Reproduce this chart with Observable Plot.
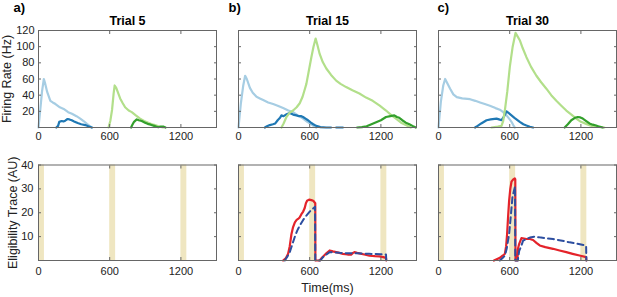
<!DOCTYPE html>
<html><head><meta charset="utf-8">
<script src="https://cdn.jsdelivr.net/npm/d3@7"></script>
<script src="https://cdn.jsdelivr.net/npm/@observablehq/plot@0.6"></script>
<style>
html,body{margin:0;padding:0;background:#fff;}
#chart{position:relative;width:617px;height:297px;overflow:hidden;font-family:"Liberation Sans",Arial,sans-serif;}
#chart svg{position:absolute;max-width:none;background:transparent;}
</style></head><body><div id="chart"></div>
<script>
// ---------- data ----------
const trials = ["Trial 5", "Trial 15", "Trial 30"];
const panelLetters = ["a)", "b)", "c)"];
const xTicks = [0, 600, 1200];
const rateTicks = [20, 40, 60, 80, 100, 120];
const traceTicks = [10, 20, 30, 40];
const windowStart = [0, 600, 1200];
const windowEnd = [50, 650, 1250];

// firing rates [time ms, Hz]
const lightBlue5 = [[0,0],[15,22],[30,45],[45,60],[55,55],[73,44],[100,33],[120,31],[143,29],[180,25],[212,23],[250,19],[282,17],[320,14],[352,11],[380,8],[408,4.5],[430,2],[450,0]];
const darkBlue5 = [[150,0],[165,2],[175,7],[195,8],[210,7.5],[225,8.5],[245,10.5],[260,10],[280,9],[300,7.5],[330,5.5],[360,4],[394,3],[420,1.5],[450,0]];
const lightGreen5 = [[590,0],[605,8],[620,22],[633,42],[642,52],[655,49],[670,43],[688,36],[710,30],[730,25],[760,21],[786,19],[820,15],[856,11],[890,8],[930,5.5],[968,3.5],[1000,2],[1023,1],[1050,0]];
const darkGreen5 = [[780,0],[790,3],[805,7],[828,10],[845,9],[870,8],[898,6],[920,4.5],[945,3.5],[975,2],[995,1],[1010,0.3],[1030,1.2],[1055,1],[1070,0]];

const lightBlue15 = [[0,0],[20,30],[40,52],[56,64],[70,60],[96,49],[120,43],[152,38],[180,36],[208,34],[250,31],[292,29],[330,27],[376,24],[420,21],[460,19],[500,15],[544,11],[580,7],[614,4],[640,1],[655,0]];
const darkBlue15 = [[222,0],[240,1.5],[264,3],[290,4],[310,5],[330,9],[350,12],[362,15],[380,14],[400,16],[432,18],[460,16],[488,15],[510,14],[530,14],[544,13],[565,11],[586,9],[610,6],[630,4],[655,2],[690,0.5],[740,0],[780,0],[800,null],[823,0],[880,0]];
const lightGreen15 = [[362,0],[380,5],[404,13],[430,18],[460,21],[490,25],[516,30],[540,38],[560,48],[572,54],[590,68],[614,87],[632,100],[650,110],[665,102],[684,91],[710,81],[740,73],[780,65],[823,58],[860,54],[907,50],[960,46],[1019,42],[1075,37],[1131,33],[1190,27],[1243,21],[1290,15],[1327,11],[1370,6],[1410,3],[1452,0]];
const darkGreen15 = [[1000,0],[1040,0.5],[1080,1.5],[1120,4],[1160,6.5],[1200,9],[1243,13],[1280,14],[1313,15],[1335,13],[1355,12],[1380,9],[1410,6],[1440,4],[1466,2],[1494,0]];

const lightBlue30 = [[0,0],[20,32],[40,52],[56,60],[70,56],[98,48],[125,41],[154,37.5],[200,36],[266,35],[310,33],[350,31],[390,29],[433,27],[480,24],[517,22],[545,19],[573,15],[600,10],[615,7],[630,3],[643,0]];
const darkBlue30 = [[308,0],[330,2],[360,5],[405,9],[440,10],[489,11],[510,10],[531,9],[550,13],[573,20],[590,18],[615,15],[640,12],[685,7],[715,4],[741,2.5],[770,1],[797,0]];
const lightGreen30 = [[447,0],[500,1],[531,2],[545,8],[559,21],[580,45],[601,75],[625,100],[649,117],[665,113],[685,108],[710,98],[741,87],[780,75],[825,64],[865,56],[909,48],[950,40],[993,33],[1035,27],[1077,21],[1120,16],[1161,11],[1200,7],[1244,4.5],[1290,2],[1328,1],[1398,0]];
const darkGreen30 = [[1063,0],[1090,4],[1119,9],[1150,12],[1174,13],[1195,12.5],[1216,11],[1245,8],[1272,5],[1300,3.5],[1328,2.5],[1355,1],[1384,0]];

// eligibility traces [time ms, AU]
const red15 = [[376,0],[400,1],[418,2.8],[432,6],[446,11],[460,14],[475,16],[490,17],[502,17.4],[515,18],[530,19.4],[545,20.5],[558,22],[568,24],[578,25],[595,25.5],[614,25.3],[630,25],[642,24.3],[647,24],[648,0],[684,0],[700,1],[720,2],[740,3],[768,4.2],[795,3.8],[823,3.5],[850,3.2],[880,2.8],[920,2.5],[949,2.4],[965,3.2],[977,3.5],[1000,3.2],[1019,3],[1060,2.5],[1103,2],[1150,1.8],[1187,1.7],[1220,1.4],[1243,1.1],[1245,0]];
const dashed15 = [[390,0],[410,1.5],[432,3.5],[455,7],[475,10],[495,12.5],[516,14.6],[545,17],[572,18.8],[600,20.5],[634,22],[645,22.5],[647,0],[690,0],[712,1.4],[740,2.5],[768,3.5],[800,3.5],[850,3.2],[900,3],[963,3],[1000,3],[1050,2.9],[1100,2.8],[1150,2.7],[1200,2.6],[1243,2.5],[1245,0]];
const red30 = [[467,0],[490,0.5],[517,1.1],[540,2],[559,2.8],[570,6],[578,11],[586,18],[595,25],[605,30],[615,33],[630,34],[643,34.4],[647,34],[649,0],[665,0],[670,5],[680,7],[699,9.4],[720,9.2],[741,9],[770,9],[797,8.6],[825,7.4],[853,6.3],[900,5.6],[965,4.9],[1020,4.2],[1077,3.5],[1130,2.8],[1188,2.1],[1244,1.4],[1246,0]];
const dashed30 = [[517,0],[540,1],[559,2],[575,5],[595,11],[610,19],[623,26.4],[635,29],[645,31],[647,0],[668,0],[680,4],[697,6],[713,8.3],[740,9],[770,9.6],[811,10],[850,9.7],[900,9.4],[965,9],[1030,8.4],[1105,7.6],[1170,7],[1244,6.2],[1246,0]];

const rateSeries = [
  [lightBlue5, darkBlue5, lightGreen5, darkGreen5],
  [lightBlue15, darkBlue15, lightGreen15, darkGreen15],
  [lightBlue30, darkBlue30, lightGreen30, darkGreen30]
];
const traceSeries = [[], [red15, dashed15], [red30, dashed30]];

// ---------- styles ----------
const rateColors = ["#a6cde3", "#1f78b4", "#b2df8a", "#33a02c"];
const redColor = "#e4232a", dashColor = "#2d4ea0";
const barColor = "#efe6c1", axisColor = "#666", textColor = "#222";
const FONT = '"Liberation Sans", Arial, sans-serif';

const chart = document.getElementById("chart");
const FW = 178;
const lefts = [38, 238, 438];
const windows = windowStart.map((s, i) => ({s, e: windowEnd[i]}));
const fmt = d => String(d);

function build(i, low) {
  const ml = i === 0 ? 38 : 20, mr = 2;
  const mt = low ? 14.5 : 30, fh = low ? 95.5 : 97, mb = low ? 37 : 20;
  const marks = [];
  if (low) {
    marks.push(Plot.rect(windows, {x1: "s", x2: "e", fill: barColor}));
    const [red, dash] = traceSeries[i];
    if (red) {
      marks.push(Plot.line(red, {x: d => d[0], y: d => d[1], stroke: redColor, strokeWidth: 2.2}));
      marks.push(Plot.line(dash, {x: d => d[0], y: d => d[1], stroke: dashColor, strokeWidth: 2, strokeDasharray: "6,4"}));
    }
  } else {
    rateSeries[i].forEach((s, k) => marks.push(Plot.line(s, {x: d => d[0], y: d => d[1], stroke: rateColors[k], strokeWidth: 2.2})));
  }
  const yt = low ? traceTicks : rateTicks;
  marks.push(
    Plot.frame({stroke: axisColor}),
    Plot.axisX(xTicks, {anchor: "bottom", tickSize: -3, tickPadding: low ? 10 : 8, stroke: axisColor, fill: textColor, fontSize: 11, tickFormat: fmt, label: null}),
    Plot.axisX(xTicks, {anchor: "top", tickSize: -3, stroke: axisColor, tickFormat: () => "", label: null}),
    Plot.axisY(yt, {anchor: "left", tickSize: -3, tickPadding: low ? 8 : 7, stroke: axisColor, fill: textColor, fontSize: 11, tickFormat: i === 0 ? fmt : () => "", label: null}),
    Plot.axisY(yt, {anchor: "right", tickSize: -3, stroke: axisColor, tickFormat: () => "", label: null})
  );
  if (i === 0) {
    marks.push(Plot.axisY([], {anchor: "left", tickSize: 0, label: low ? "Eligibility Trace (AU)" : "Firing Rate (Hz)",
      labelAnchor: "center", labelArrow: "none", labelOffset: low ? 30 : 36, fontSize: 12.5, fill: textColor}));
  }
  if (i === 1 && low) {
    marks.push(Plot.axisX([], {anchor: "bottom", tickSize: 0, label: "Time(ms)", labelAnchor: "center", labelArrow: "none", labelOffset: 31, fontSize: 12.5, fill: textColor}));
  }
  if (!low) {
    marks.push(Plot.text([trials[i]], {frameAnchor: "top", dy: -5.5, lineAnchor: "bottom", fontWeight: "bold", fontSize: 12.5, fill: "#000"}));
    const ldx = [-25, -10, -1][i];
    marks.push(Plot.text([panelLetters[i]], {frameAnchor: "top-left", dx: ldx, dy: -19, textAnchor: "start", lineAnchor: "bottom", fontWeight: "bold", fontSize: 13, fill: "#000"}));
  }
  const svg = Plot.plot({
    width: ml + FW + mr, height: mt + fh + mb,
    marginLeft: ml, marginRight: mr, marginTop: mt, marginBottom: mb,
    x: {domain: [0, 1500]},
    y: {domain: low ? [0, 40] : [0, 120]},
    style: {fontFamily: FONT, fontSize: "11px", color: textColor, background: "transparent", overflow: "visible"},
    marks
  });
  svg.style.left = (lefts[i] - ml) + "px";
  svg.style.top = (low ? 150 : 0) + "px";
  chart.appendChild(svg);
}
for (let i = 0; i < 3; i++) { build(i, false); build(i, true); }
</script></body></html>
